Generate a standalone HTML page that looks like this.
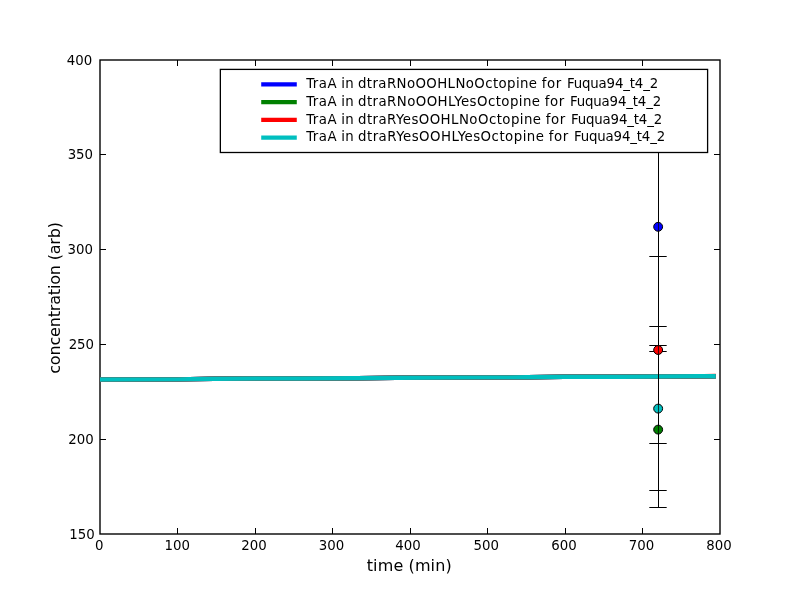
<!DOCTYPE html>
<html>
<head>
<meta charset="utf-8">
<title>TraA concentration</title>
<style>
html,body{margin:0;padding:0;background:#fff;}
body{width:800px;height:600px;overflow:hidden;}
svg{display:block;}
text{font-family:"DejaVu Sans","Liberation Sans",sans-serif;fill:#000;}
.tk{font-size:13.33px;}
.lb{font-size:16px;}
.lg{font-size:13.33px;}
</style>
</head>
<body>
<svg width="800" height="600" viewBox="0 0 800 600">
<rect x="0" y="0" width="800" height="600" fill="#fff"/>
<!-- axes frame -->
<rect x="100" y="60" width="620" height="474" fill="none" stroke="#000" stroke-width="1.39"/>
<!-- ticks -->
<g fill="#000" shape-rendering="crispEdges">
<path d="M177,528.4h1v5.6h-1zM177,60h1v5.6h-1zM255,528.4h1v5.6h-1zM255,60h1v5.6h-1zM332,528.4h1v5.6h-1zM332,60h1v5.6h-1zM410,528.4h1v5.6h-1zM410,60h1v5.6h-1zM487,528.4h1v5.6h-1zM487,60h1v5.6h-1zM565,528.4h1v5.6h-1zM565,60h1v5.6h-1zM642,528.4h1v5.6h-1zM642,60h1v5.6h-1zM100,154h5.6v1h-5.6zM714.4,154h5.6v1h-5.6zM100,249h5.6v1h-5.6zM714.4,249h5.6v1h-5.6zM100,344h5.6v1h-5.6zM714.4,344h5.6v1h-5.6zM100,439h5.6v1h-5.6zM714.4,439h5.6v1h-5.6z"/>
</g>
<!-- data lines -->
<g fill="none" stroke-width="4.45" stroke-linecap="butt" stroke-linejoin="round">
<polyline stroke="#0000ff" points="100,379.5 178,379.35 214,378.7 300,378.45 358,378.3 396,377.7 500,377.4 528,377.3 564,376.8 620,376.7 700,376.3 715.8,376.2"/>
<polyline stroke="#008000" points="100,379.5 178,379.35 214,378.7 300,378.45 358,378.3 396,377.7 500,377.4 528,377.3 564,376.8 620,376.7 700,376.3 715.8,376.2"/>
<polyline stroke="#ff0000" points="100,379.5 178,379.35 214,378.7 300,378.45 358,378.3 396,377.7 500,377.4 528,377.3 564,376.8 620,376.7 700,376.3 704,376.26 715.8,376.0"/>
<polyline stroke="#00bfbf" points="100,379.5 178,379.35 214,378.7 300,378.45 358,378.3 396,377.7 500,377.4 528,377.3 564,376.8 620,376.7 700,376.3 715.8,376.2"/>
</g>
<!-- error bars -->
<line x1="658.5" y1="108" x2="658.5" y2="508" stroke="#000" stroke-width="1" shape-rendering="crispEdges"/>
<g stroke="#000" stroke-width="1">
<line x1="649.3" y1="256.5" x2="666.7" y2="256.5"/>
<line x1="649.3" y1="326.5" x2="666.7" y2="326.5"/>
<line x1="649.3" y1="345.5" x2="666.7" y2="345.5"/>
<line x1="649.3" y1="351.5" x2="666.7" y2="351.5"/>
<line x1="649.3" y1="443.5" x2="666.7" y2="443.5"/>
<line x1="649.3" y1="490.5" x2="666.7" y2="490.5"/>
<line x1="649.3" y1="507.5" x2="666.7" y2="507.5"/>
</g>
<g stroke="#000" stroke-width="1">
<circle cx="658.15" cy="226.8" r="4.45" fill="#0000ff"/>
<circle cx="658.15" cy="429.6" r="4.45" fill="#008000"/>
<circle cx="658.15" cy="350" r="4.45" fill="#ff0000"/>
<circle cx="658.15" cy="408.6" r="4.45" fill="#00bfbf"/>
</g>
<g stroke="#000" stroke-width="1" stroke-opacity="0.7" shape-rendering="crispEdges">
<line x1="658.5" y1="222" x2="658.5" y2="232"/>
<line x1="658.5" y1="345" x2="658.5" y2="355"/>
<line x1="658.5" y1="404" x2="658.5" y2="413"/>
<line x1="658.5" y1="425" x2="658.5" y2="434"/>
</g>
<!-- tick labels -->
<g class="tk" text-anchor="middle">
<text x="99.2" y="550">0</text>
<text x="177.3" y="550">100</text>
<text x="254.0" y="550">200</text>
<text x="331.5" y="550">300</text>
<text x="408.0" y="550">400</text>
<text x="486.2" y="550">500</text>
<text x="564.0" y="550">600</text>
<text x="641.5" y="550">700</text>
<text x="719.0" y="550">800</text>
</g>
<g class="tk" text-anchor="end">
<text x="94.7" y="539">150</text>
<text x="93.7" y="444">200</text>
<text x="94.1" y="349">250</text>
<text x="92.9" y="254">300</text>
<text x="93.1" y="159">350</text>
<text x="92.3" y="65">400</text>
</g>
<text class="lb" x="366.7" y="570.5" textLength="85">time (min)</text>
<text class="lb" transform="translate(60,297.9) rotate(-90)" text-anchor="middle" textLength="151.7">concentration (arb)</text>
<!-- legend -->
<rect x="220.35" y="69.4" width="487.25" height="83.1" fill="#fff" stroke="#000" stroke-width="1.3"/>
<g stroke-width="4.17" stroke-linecap="square">
<line x1="263.3" y1="84.3" x2="294.7" y2="84.3" stroke="#0000ff"/>
<line x1="263.3" y1="102.1" x2="294.7" y2="102.1" stroke="#008000"/>
<line x1="263.3" y1="119.9" x2="294.7" y2="119.9" stroke="#ff0000"/>
<line x1="263.3" y1="137.7" x2="294.7" y2="137.7" stroke="#00bfbf"/>
</g>
<g class="lg">
<text y="88" xml:space="preserve"><tspan x="306.2" textLength="35.1">TraA </tspan><tspan x="341.3" textLength="16.7">in </tspan><tspan x="358" textLength="183.7">dtraRNoOOHLNoOctopine </tspan><tspan x="541.7" textLength="24.4">for </tspan><tspan x="566.9" textLength="91.3">Fuqua94_t4_2</tspan></text>
<text y="105.8" xml:space="preserve"><tspan x="306.2" textLength="35.1">TraA </tspan><tspan x="341.3" textLength="16.7">in </tspan><tspan x="358" textLength="186.7">dtraRNoOOHLYesOctopine </tspan><tspan x="544.7" textLength="24.4">for </tspan><tspan x="569.9" textLength="91.3">Fuqua94_t4_2</tspan></text>
<text y="123.6" xml:space="preserve"><tspan x="306.2" textLength="35.1">TraA </tspan><tspan x="341.3" textLength="16.7">in </tspan><tspan x="358" textLength="187.7">dtraRYesOOHLNoOctopine </tspan><tspan x="545.7" textLength="24.4">for </tspan><tspan x="570.9" textLength="91.3">Fuqua94_t4_2</tspan></text>
<text y="141.4" xml:space="preserve"><tspan x="306.2" textLength="35.1">TraA </tspan><tspan x="341.3" textLength="16.7">in </tspan><tspan x="358" textLength="190.7">dtraRYesOOHLYesOctopine </tspan><tspan x="548.7" textLength="24.4">for </tspan><tspan x="573.9" textLength="91.3">Fuqua94_t4_2</tspan></text>
</g>
</svg>
</body>
</html>
